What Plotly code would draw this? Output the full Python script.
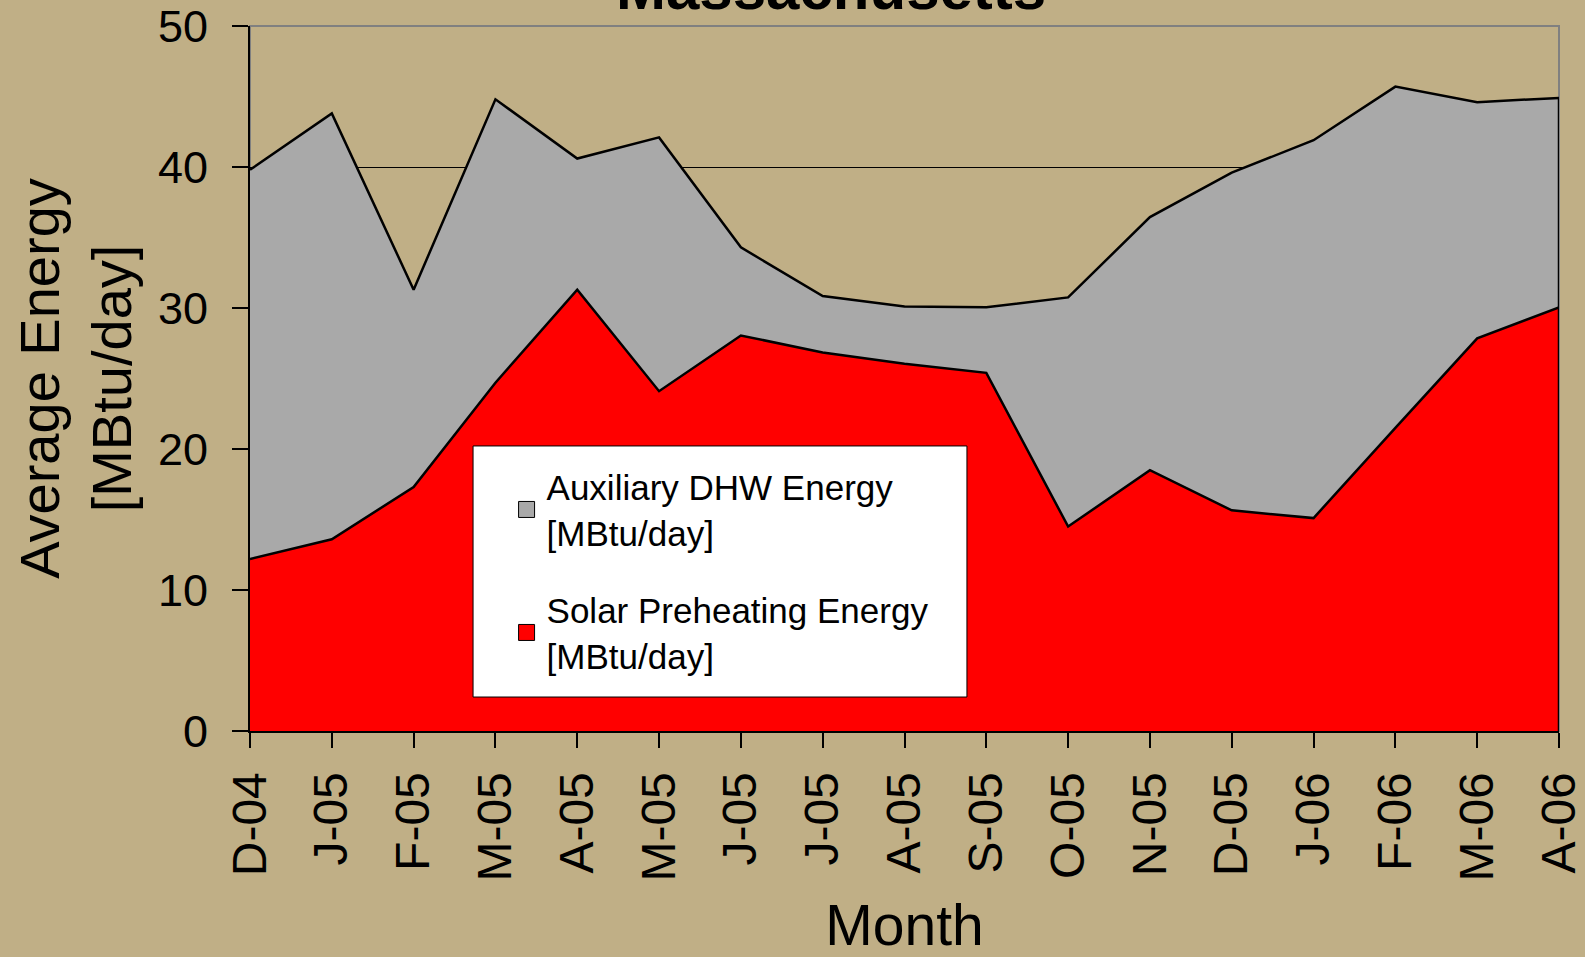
import plotly.graph_objects as go

months = ["D-04", "J-05", "F-05", "M-05", "A-05", "M-05", "J-05", "J-05", "A-05",
          "S-05", "O-05", "N-05", "D-05", "J-06", "F-06", "M-06", "A-06"]
solar = [12.2, 13.6, 17.3, 24.7, 31.3, 24.1, 28.05, 26.85, 26.05, 25.4, 14.5,
         18.5, 15.65, 15.1, 21.5, 27.85, 30.05]
auxiliary = [27.6, 30.2, 14.0, 20.1, 9.3, 18.0, 6.25, 4.0, 4.05, 4.65, 16.25,
             17.95, 23.95, 26.8, 24.2, 16.75, 14.85]
y_ticks = [0, 10, 20, 30, 40, 50]

aux_name = "Auxiliary DHW Energy<br>[MBtu/day]"
solar_name = "Solar Preheating Energy<br>[MBtu/day]"
chart_title = "Massachusetts"

BG = "#C0AF86"
GRAY = "#A9A9A9"
RED = "#FF0000"
FONT = "Arial, Liberation Sans, sans-serif"

x_pos = list(range(len(months)))

fig = go.Figure()
fig.add_trace(go.Scatter(
    x=x_pos, y=solar, stackgroup="e", mode="lines",
    line=dict(color="black", width=2.5), fillcolor=RED,
    showlegend=False, hoverinfo="skip"))
fig.add_trace(go.Scatter(
    x=x_pos, y=auxiliary, stackgroup="e", mode="lines",
    line=dict(color="black", width=2.5), fillcolor=GRAY,
    showlegend=False, hoverinfo="skip"))
# right edge outline of the stacked area
fig.add_trace(go.Scatter(
    x=[x_pos[-1], x_pos[-1]], y=[0, solar[-1] + auxiliary[-1]], mode="lines",
    line=dict(color="black", width=2.5), showlegend=False, hoverinfo="skip"))

# legend entries (square swatches)
fig.add_trace(go.Scatter(
    x=[None], y=[None], mode="markers", name=aux_name, legendgroup="a",
    marker=dict(symbol="square", size=16, color=GRAY, line=dict(color="black", width=1))))
fig.add_trace(go.Scatter(
    x=[None], y=[None], mode="markers", name=solar_name, legendgroup="b",
    marker=dict(symbol="square", size=16, color=RED, line=dict(color="black", width=1))))

fig.update_layout(
    width=1585, height=957, autosize=False,
    margin=dict(l=250, r=26, t=26, b=226, pad=0, autoexpand=False),
    paper_bgcolor=BG, plot_bgcolor=BG,
    font=dict(family=FONT, color="black"),
    showlegend=True,
    legend=dict(
        x=0.196, y=0.388, xanchor="left", yanchor="top",
        bgcolor="rgba(0,0,0,0)", borderwidth=0,
        font=dict(size=35, family=FONT, color="black"),
        tracegroupgap=29, itemsizing="trace", traceorder="grouped"),
    xaxis=dict(
        automargin=False,
        range=[0, len(months) - 1], tickvals=x_pos, ticktext=months,
        tickangle=-90, ticks="outside", ticklen=15, tickwidth=1.5, tickcolor="black",
        tickfont=dict(size=48, family=FONT, color="black"), ticklabelstandoff=5,
        showline=True, linecolor="black", linewidth=2,
        showgrid=False, zeroline=False,
        title=dict(text="Month", font=dict(size=57, family=FONT, color="black"), standoff=45)),
    yaxis=dict(
        automargin=False,
        range=[0, 50], tickvals=y_ticks, ticks="outside", ticklen=16, tickwidth=1.5,
        tickcolor="black", tickfont=dict(size=45, family=FONT, color="black"),
        ticklabelstandoff=15,
        showline=True, linecolor="black", linewidth=2,
        showgrid=True, gridcolor="black", gridwidth=1, zeroline=False,
        title=dict(text="Average Energy<br>[MBtu/day]",
                   font=dict(size=56, family=FONT, color="black"), standoff=8)),
    shapes=[
        dict(type="rect", xref="paper", yref="paper", x0=0, x1=1, y0=0, y1=1,
             line=dict(color="#808080", width=2), fillcolor="rgba(0,0,0,0)", layer="below"),
        dict(type="rect", xref="paper", yref="paper", x0=0.1704, x1=0.5477,
             y0=0.0482, y1=0.4043, line=dict(color="black", width=1),
             fillcolor="white", layer="above"),
    ],
    annotations=[
        dict(text="<b>" + chart_title + "</b>", xref="paper", yref="paper",
             x=0.444, y=1.003, xanchor="center", yanchor="bottom", showarrow=False,
             font=dict(size=60, family=FONT, color="black")),
    ],
)

fig.write_html("out.html", config={"displayModeBar": False},
               post_script="document.body.style.margin='0';")
